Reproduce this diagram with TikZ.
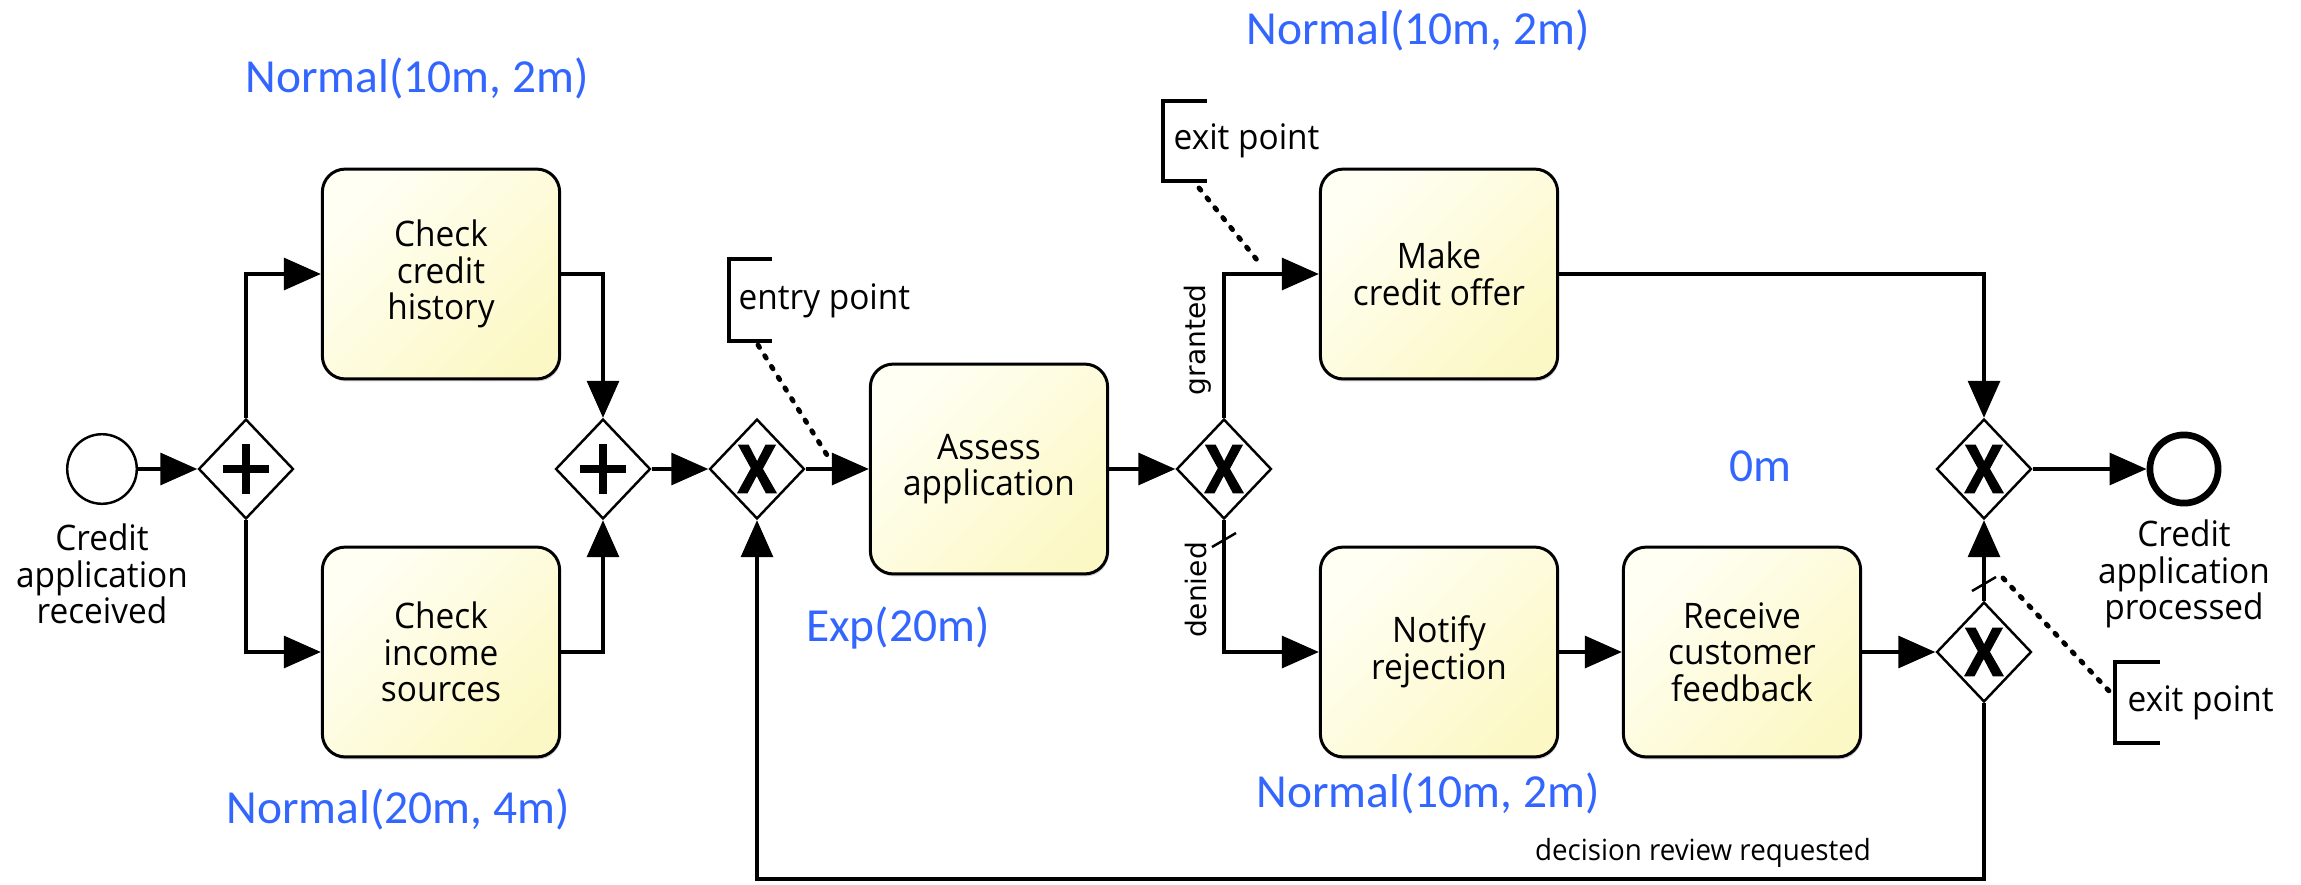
\documentclass[tikz,border=0pt]{standalone}
\usepackage{fontspec}
\setmainfont{Open Sans}[FakeStretch=0.95]
\newfontfamily\bluefont{Carlito}
\newfontfamily\smallfont{DejaVu Sans}
\newfontfamily\markfont{Open Sans}[FakeStretch=0.86, BoldFeatures={FakeBold=1.6}]
\usetikzlibrary{arrows.meta,shapes.geometric,shadows}

\definecolor{simblue}{RGB}{51,102,255}
\definecolor{taskA}{RGB}{255,255,244}
\definecolor{taskB}{RGB}{252,248,198}

\tikzset{
  taskfont/.style={font=\fontsize{10pt}{10.4pt}\selectfont},
  task/.style={draw=black, line width=0.85pt, rounded corners=6.5pt,
    minimum width=67.5pt, minimum height=59.7pt, align=center, taskfont,
    top color=taskA, bottom color=taskB, shading angle=45,
    drop shadow={shadow xshift=0.3pt, shadow yshift=-0.7pt, opacity=0.35}},
  gateway/.style={diamond, draw=black, line width=0.7pt, fill=white,
    inner sep=0pt, minimum width=27pt, minimum height=28.4pt},
  xmark/.style={inner sep=0pt, font=\markfont\fontsize{19pt}{19pt}\selectfont\bfseries},
  xgw/.style={gateway, label={[xmark]center:X}},
  pgw/.style={gateway, path picture={
    \draw[line width=2.4pt] ([xshift=-6.6pt]path picture bounding box.center)
      -- ([xshift=6.6pt]path picture bounding box.center);
    \draw[line width=2.4pt] ([yshift=-7pt]path picture bounding box.center)
      -- ([yshift=7pt]path picture bounding box.center);}},
  startev/.style={circle, draw=black, line width=0.7pt, fill=white,
    minimum size=19.8pt, inner sep=0pt},
  endev/.style={circle, draw=black, line width=1.9pt, fill=white,
    minimum size=19.4pt, inner sep=0pt},
  evlabel/.style={align=center, taskfont, inner sep=0pt},
  flow/.style={line width=1.15pt, -{Triangle[length=10.5pt, width=9pt]}},
  slashmark/.style={line width=0.7pt},
  bracket/.style={line width=0.9pt},
  assoc/.style={line width=1.4pt, line cap=round, dash pattern=on 0.8pt off 2.8pt},
  anntext/.style={taskfont, inner sep=0pt, anchor=west},
  flowlabel/.style={inner sep=0pt, font=\smallfont\fontsize{8pt}{8pt}\selectfont},
  simlabel/.style={inner sep=0pt, text=simblue, font=\bluefont\fontsize{13.5pt}{14pt}\selectfont},
}

\begin{document}
\begin{tikzpicture}[x=0.2845pt, y=-0.2845pt]
  \useasboundingbox[fill=white] (0,0) rectangle (2301,884);

  % events
  \node[startev] (start) at (102,469) {};
  \node[evlabel] (slab) at (102,574) {Credit\\application\\received};
  \node[endev] (end) at (2184,469) {};
  \node[evlabel] (elab) at (2184,574) {Credit\\application\\processed};

  % gateways
  \node[pgw] (par1) at (246,469) {};
  \node[pgw] (par2) at (603,469) {};
  \node[xgw] (xor1) at (757,469) {};
  \node[xgw] (xor2) at (1224,469) {};
  \node[xgw] (xor3) at (1984,469) {};
  \node[xgw] (xor4) at (1984,652) {};

  % tasks
  \node[task] (hist)   at (441,274)  {Check\\credit\\history};
  \node[task] (inc)    at (441,652)  {Check\\income\\sources};
  \node[task] (assess) at (989,469)  {Assess\\application};
  \node[task] (offer)  at (1439,274) {Make\\credit offer};
  \node[task] (notify) at (1439,652) {Notify\\rejection};
  \node[task] (recv)   at (1742,652) {Receive\\customer\\feedback};

  % sequence flows
  \draw[flow] (start) -- (par1);
  \draw[flow] (par1) |- (hist);
  \draw[flow] (par1) |- (inc);
  \draw[flow] (hist) -| (par2);
  \draw[flow] (inc) -| (par2);
  \draw[flow] (par2) -- (xor1);
  \draw[flow] (xor1) -- (assess);
  \draw[flow] (assess) -- (xor2);
  \draw[flow] (xor2) |- (offer);
  \draw[flow] (xor2) |- (notify);
  \draw[flow] (notify) -- (recv);
  \draw[flow] (recv) -- (xor4);
  \draw[flow] (offer) -| (xor3);
  \draw[flow] (xor4) -- (xor3);
  \draw[flow] (xor3) -- (end);
  \coordinate (loopc) at (757,879);
  \draw[flow] (xor4) |- (loopc) -- (xor1);

  % default-flow markers
  \draw[slashmark] (1212,547) -- (1236,533);
  \draw[slashmark] (1972,591) -- (1996,577);

  % flow labels
  \node[flowlabel, rotate=90] (lgrant) at (1198,340) {granted};
  \node[flowlabel, rotate=90] (ldeny) at (1196,590) {denied};
  \node[inner sep=0pt, font=\fontsize{8.3pt}{8.3pt}\selectfont] (lrev) at (1703,853) {decision review requested};

  % annotations
  \node[anntext] (ann1) at (738,301) {entry point};
  \draw[bracket] (772,259) -- (729,259) -- (729,341) -- (772,341);
  \coordinate (a1s) at (758,345);
  \coordinate (a1e) at (827,455);
  \draw[assoc] (a1s) -- (a1e);

  \node[anntext] (ann2) at (1173,141) {exit point};
  \draw[bracket] (1207,101) -- (1163,101) -- (1163,181) -- (1207,181);
  \coordinate (a2s) at (1199,188);
  \coordinate (a2e) at (1257,260);
  \draw[assoc] (a2s) -- (a2e);

  \node[anntext] (ann3) at (2127,703) {exit point};
  \draw[bracket] (2160,662) -- (2115,662) -- (2115,743) -- (2160,743);
  \coordinate (a3s) at (2003,578);
  \coordinate (a3e) at (2110,692);
  \draw[assoc] (a3s) -- (a3e);

  % simulation parameters
  \node[simlabel] (s1) at (417,78)   {Normal(10m, 2m)};
  \node[simlabel] (s2) at (398,809)  {Normal(20m, 4m)};
  \node[simlabel] (s3) at (898,628)  {Exp(20m)};
  \node[simlabel] (s4) at (1418,30)  {Normal(10m, 2m)};
  \node[simlabel] (s5) at (1760,466) {0m};
  \node[simlabel] (s6) at (1428,793) {Normal(10m, 2m)};
\end{tikzpicture}
\end{document}
